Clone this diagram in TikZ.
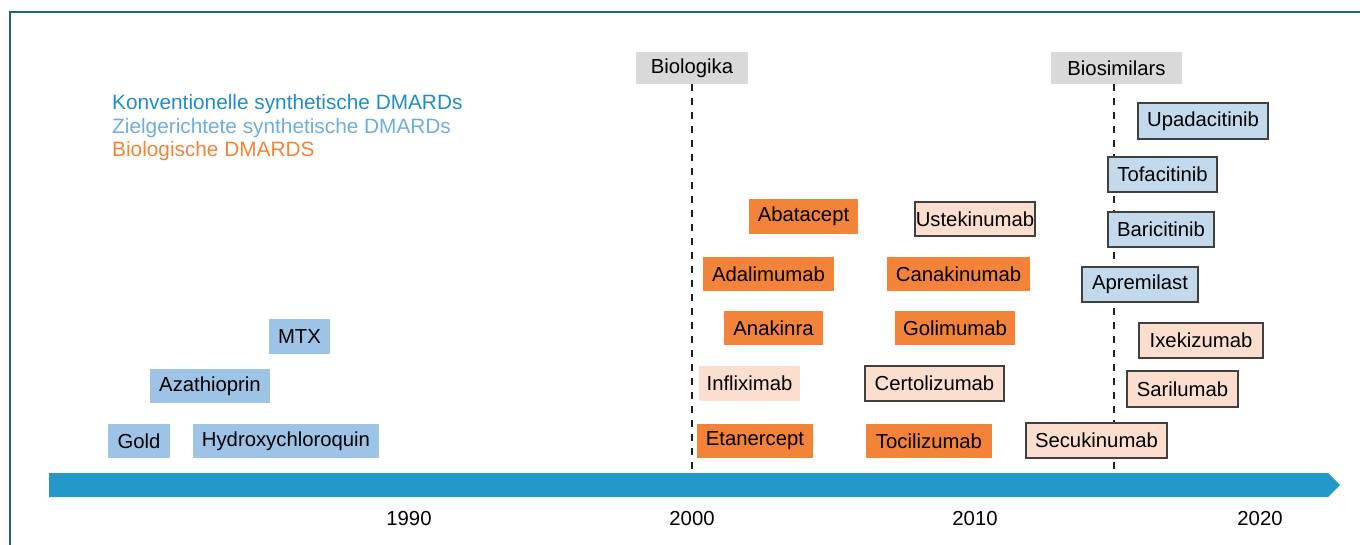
\documentclass[tikz,border=0pt]{standalone}
\usepackage{fontspec}
\setmainfont{Liberation Sans}
\definecolor{frameC}{RGB}{31,104,104}
\definecolor{lineC}{RGB}{35,152,201}
\definecolor{convC}{RGB}{157,195,230}
\definecolor{tsC}{RGB}{194,218,236}
\definecolor{bioC}{RGB}{243,131,56}
\definecolor{simC}{RGB}{252,222,206}
\definecolor{grayC}{RGB}{217,217,217}
\definecolor{edgeC}{RGB}{64,64,64}
\definecolor{legA}{RGB}{33,140,204}
\definecolor{legB}{RGB}{110,174,222}
\definecolor{legC}{RGB}{243,131,56}
\tikzset{
  txt/.style={font=\fontsize{20.3}{24}\selectfont, text=black},
  drug/.style={txt, inner sep=0pt, minimum height=34pt},
  conv/.style={drug, fill=convC},
  tsyn/.style={drug, fill=tsC, draw=edgeC, line width=1.5pt},
  bio/.style={drug, fill=bioC},
  simb/.style={drug, fill=simC, draw=edgeC, line width=1.5pt},
  simn/.style={drug, fill=simC},
  era/.style={drug, fill=grayC, minimum height=32pt},
  eraline/.style={draw=black!88, line width=2.8pt, dash pattern=on 7pt off 7pt},
  year/.style={txt},
  leg/.style={font=\fontsize{20.8}{24}\selectfont, anchor=base west, inner sep=0pt},
}
\begin{document}
\begin{tikzpicture}[x=1pt,y=-1pt]
\useasboundingbox (0,0) rectangle (1360,545);
% frame
\draw[frameC, line width=1.5pt] (10,560) -- (10,12) -- (1375,12);
% timeline arrow
\fill[lineC] (49,473) -- (1328,473) -- (1340,485) -- (1328,497) -- (49,497) -- cycle;
\coordinate (t2000) at (692,473);
\coordinate (t2015) at (1114,473);
% era labels
\node[era, minimum width=112pt] (biologika) at (692,68) {Biologika};
\node[era, minimum width=131pt] (biosim) at (1116.5,68) {Biosimilars};
\draw[eraline] (biologika.south) -- (t2000);
\draw[eraline] (biosim.south -| t2015) -- (t2015);
% legend
\node[leg, text=legA] (legA) at (112,110) {Konventionelle synthetische DMARDs};
\node[leg, text=legB] (legB) at (112,133.5) {Zielgerichtete synthetische DMARDs};
\node[leg, text=legC] (legC) at (112,157) {Biologische DMARDS};
% conventional
\node[conv, minimum width=62pt] (gold) at (139,441) {Gold};
\node[conv, minimum width=186pt] (hcq) at (286,441) {Hydroxychloroquin};
\node[conv, minimum width=120pt] (aza) at (210,386) {Azathioprin};
\node[conv, minimum width=61pt, minimum height=35pt] (mtx) at (299.5,336.5) {MTX};
% biologics
\node[bio, minimum width=109pt, minimum height=35pt] (abata) at (803.5,216.5) {Abatacept};
\node[bio, minimum width=131pt] (adali) at (768.5,274) {Adalimumab};
\node[bio, minimum width=99pt] (anak) at (773.5,328) {Anakinra};
\node[simn, minimum width=101pt, minimum height=35pt] (infli) at (749.5,383.5) {Infliximab};
\node[bio, minimum width=116pt] (etan) at (755,441) {Etanercept};
\node[simb, minimum width=120pt] (uste) at (975,219) {Ustekinumab};
\node[bio, minimum width=143pt] (cana) at (958.5,274) {Canakinumab};
\node[bio, minimum width=120pt] (goli) at (955,328) {Golimumab};
\node[simb, minimum width=139pt, minimum height=35pt] (certo) at (934.5,383.5) {Certolizumab};
\node[bio, minimum width=126pt] (toci) at (929,441) {Tocilizumab};
\node[simb, minimum width=141pt, minimum height=35pt] (secu) at (1096.5,440.5) {Secukinumab};
\node[simb, minimum width=124pt, minimum height=35pt] (ixe) at (1201,340.5) {Ixekizumab};
\node[simb, minimum width=111pt, minimum height=36pt] (sari) at (1182.5,389) {Sarilumab};
% targeted synthetic
\node[tsyn, minimum width=130pt, minimum height=36pt] (upa) at (1203,121) {Upadacitinib};
\node[tsyn, minimum width=109pt, minimum height=35pt] (tofa) at (1162.5,174.5) {Tofacitinib};
\node[tsyn, minimum width=106pt, minimum height=35pt] (bari) at (1161,229.5) {Baricitinib};
\node[tsyn, minimum width=116pt, minimum height=35pt] (apre) at (1140,284.5) {Apremilast};
% years
\node[year] (y1990) at (409,519) {1990};
\node[year] (y2000) at (692,519) {2000};
\node[year] (y2010) at (975,519) {2010};
\node[year] (y2020) at (1260,519) {2020};
\end{tikzpicture}
\end{document}
